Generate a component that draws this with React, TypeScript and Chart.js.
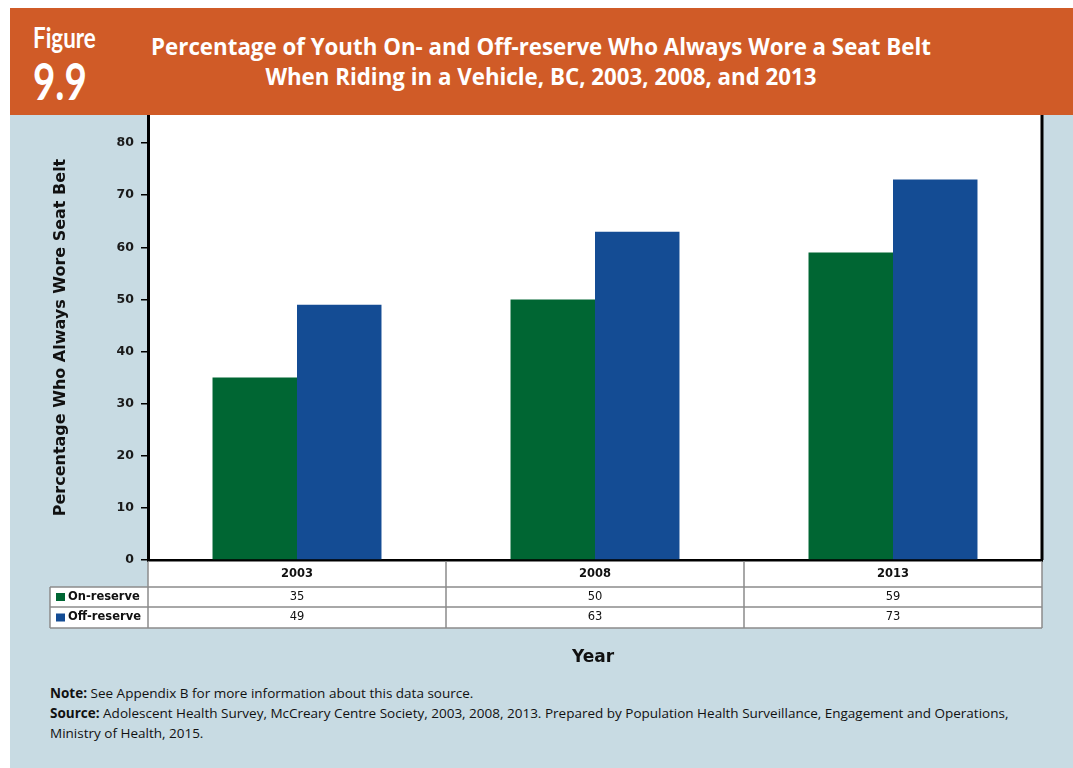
import React, { useEffect, useRef } from 'react';
import { Chart, registerables } from 'chart.js';

Chart.register(...registerables);

const years = ['2003', '2008', '2013'];
const seriesNames = ['On-reserve', 'Off-reserve'];
const onReserve = [35, 50, 59];
const offReserve = [49, 63, 73];
const yTicks = [0, 10, 20, 30, 40, 50, 60, 70, 80];
const yMax = 85.4;
const colors = ['#006633', '#144c94'];

const TICK_FONT = '"DejaVu Sans", Verdana, sans-serif';

const tablePlugin = {
  id: 'tablePlugin',
  beforeDraw(chart: any) {
    const { ctx, chartArea } = chart;
    ctx.save();
    ctx.fillStyle = '#ffffff';
    ctx.fillRect(chartArea.left, chartArea.top, chartArea.right - chartArea.left, chartArea.bottom - chartArea.top);
    ctx.restore();
  },
  afterDraw(chart: any) {
    const { ctx, chartArea } = chart;
    const left = chartArea.left;
    const right = chartArea.right;
    const b = chartArea.bottom;
    const rowTops = [b, b + 27, b + 47, b + 68];
    const labelLeft = 50;
    const colW = (right - left) / years.length;
    ctx.save();
    // right border of plot
    ctx.strokeStyle = '#000';
    ctx.lineWidth = 3;
    ctx.beginPath();
    ctx.moveTo(right, chartArea.top);
    ctx.lineTo(right, b);
    ctx.stroke();
    // table background
    ctx.fillStyle = '#ffffff';
    ctx.fillRect(left, rowTops[0] + 1.5, right - left, rowTops[1] - rowTops[0]);
    ctx.fillRect(labelLeft, rowTops[1], right - labelLeft, rowTops[3] - rowTops[1]);
    // lines
    ctx.strokeStyle = '#8c8c8c';
    ctx.lineWidth = 1.5;
    ctx.beginPath();
    for (let i = 1; i <= 3; i++) {
      ctx.moveTo(labelLeft, rowTops[i]);
      ctx.lineTo(right, rowTops[i]);
    }
    ctx.moveTo(labelLeft, rowTops[1]);
    ctx.lineTo(labelLeft, rowTops[3]);
    for (let c = 0; c <= years.length; c++) {
      const x = left + c * colW;
      ctx.moveTo(x, rowTops[0] + 1.5);
      ctx.lineTo(x, rowTops[3]);
    }
    ctx.stroke();
    // header texts
    ctx.fillStyle = '#111';
    ctx.textAlign = 'center';
    ctx.textBaseline = 'middle';
    ctx.font = 'bold 11.5px ' + TICK_FONT;
    const xs = chart.scales.x;
    years.forEach((y, i) => {
      ctx.fillText(y, xs.getPixelForValue(i), (rowTops[0] + rowTops[1]) / 2 + 1);
    });
    const rows = [onReserve, offReserve];
    rows.forEach((vals, r) => {
      const cy = (rowTops[r + 1] + rowTops[r + 2]) / 2;
      ctx.font = '11.5px ' + TICK_FONT;
      ctx.textAlign = 'center';
      ctx.fillStyle = '#111';
      vals.forEach((v, i) => {
        ctx.fillText(String(v), xs.getPixelForValue(i), cy);
      });
      ctx.fillStyle = colors[r];
      ctx.fillRect(56, cy - 4, 9, 8);
      ctx.fillStyle = '#111';
      ctx.textAlign = 'left';
      ctx.font = 'bold 11.5px ' + TICK_FONT;
      ctx.fillText(seriesNames[r], 68, cy);
    });
    // x axis title
    ctx.textAlign = 'center';
    ctx.font = 'bold 17px ' + TICK_FONT;
    ctx.fillStyle = '#111';
    ctx.fillText('Year', (left + right) / 2 - 2, b + 98);
    ctx.restore();
  },
};

function ChartCanvas() {
  const ref = useRef<HTMLCanvasElement | null>(null);
  useEffect(() => {
    if (!ref.current) return;
    const chart = new Chart(ref.current, {
      type: 'bar',
      data: {
        labels: years,
        datasets: [
          { label: seriesNames[0], data: onReserve, backgroundColor: colors[0], borderWidth: 0 },
          { label: seriesNames[1], data: offReserve, backgroundColor: colors[1], borderWidth: 0 },
        ],
      },
      options: {
        animation: false,
        responsive: false,
        maintainAspectRatio: false,
        layout: { padding: { left: 0, right: 31, top: 0, bottom: 0 } },
        datasets: { bar: { barPercentage: 1, categoryPercentage: 0.567 } },
        plugins: { legend: { display: false }, tooltip: { enabled: false }, title: { display: false } },
        scales: {
          x: {
            ticks: { display: false },
            grid: { display: false, drawTicks: false },
            border: { display: true, color: '#000', width: 3 },
            afterFit(scale: any) {
              scale.height = 115;
              scale.paddingLeft = 0;
              scale.paddingRight = 0;
            },
          },
          y: {
            min: 0,
            max: yMax,
            afterBuildTicks(scale: any) {
              scale.ticks = yTicks.map((v) => ({ value: v }));
            },
            ticks: {
              color: '#1a1a1a',
              font: { family: TICK_FONT, weight: 'bold', size: 12.5 },
              padding: 7,
            },
            grid: { drawOnChartArea: false, drawTicks: true, tickLength: 7, color: '#000', lineWidth: 1.5 },
            border: { display: true, color: '#000', width: 3 },
            title: {
              display: true,
              text: 'Percentage Who Always Wore Seat Belt',
              color: '#111',
              font: { family: TICK_FONT, weight: 'bold', size: 16 },
              padding: { top: 51, bottom: 0 },
            },
            afterFit(scale: any) {
              scale.width = 148;
              scale.paddingTop = 0;
              scale.paddingBottom = 0;
            },
          },
        },
      },
      plugins: [tablePlugin],
    } as any);
    return () => chart.destroy();
  }, []);
  return <canvas ref={ref} width={1073} height={560} style={{ position: 'absolute', left: 0, top: 115, width: 1073, height: 560 }} />;
}

export default function App() {
  useEffect(() => {
    document.body.style.margin = '0';
  }, []);
  const headFont = 'Lato, "Open Sans", sans-serif';
  const titleFont = '"Open Sans", Lato, sans-serif';
  return (
    <div style={{ position: 'relative', width: 1073, height: 768, background: '#ffffff', overflow: 'hidden' }}>
      <div style={{ position: 'absolute', left: 10, top: 115, width: 1063, height: 653, background: '#c8dbe3' }} />
      <div style={{ position: 'absolute', left: 10, top: 8, width: 1063, height: 107, background: '#d05b27' }}>
        <div style={{ position: 'absolute', left: 23, top: 14, color: '#fff', fontFamily: headFont, fontWeight: 700, fontSize: 28, lineHeight: '30px', transform: 'scaleX(0.8)', transformOrigin: 'left top' }}>Figure</div>
        <div style={{ position: 'absolute', left: 23, top: 44, color: '#fff', fontFamily: headFont, fontWeight: 700, fontSize: 52, lineHeight: '56px', transform: 'scaleX(0.74)', transformOrigin: 'left top' }}>9.9</div>
        <div style={{ position: 'absolute', left: 0, width: 1062, top: 24, textAlign: 'center', color: '#fff', fontFamily: titleFont, fontWeight: 700, fontSize: 22.3, lineHeight: '30px' }}>
          <div>Percentage of Youth On- and Off-reserve Who Always Wore a Seat Belt</div>
          <div>When Riding in a Vehicle, BC, 2003, 2008, and 2013</div>
        </div>
      </div>
      <ChartCanvas />
      <div style={{ position: 'absolute', left: 50, top: 683, width: 1015, color: '#111', fontFamily: titleFont, fontSize: 13.5, lineHeight: '20px' }}>
        <div><b>Note:</b> See Appendix B for more information about this data source.</div>
        <div style={{ whiteSpace: 'nowrap' }}><b>Source:</b> Adolescent Health Survey, McCreary Centre Society, 2003, 2008, 2013. Prepared by Population Health Surveillance, Engagement and Operations,</div>
        <div>Ministry of Health, 2015.</div>
      </div>
    </div>
  );
}
